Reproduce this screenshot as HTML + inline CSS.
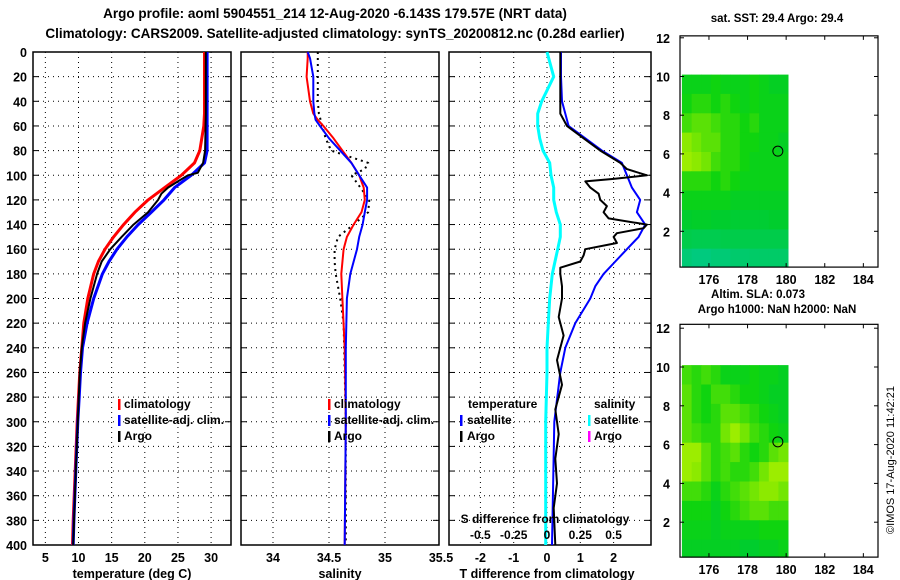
<!DOCTYPE html>
<html><head><meta charset="utf-8"><style>
html,body{margin:0;padding:0;background:#fff;}
svg{display:block;font-family:"Liberation Sans",sans-serif;font-weight:bold;}
</style></head><body>
<svg id="c" width="900" height="580" viewBox="0 0 900 580" xmlns="http://www.w3.org/2000/svg">
<text x="335" y="18" text-anchor="middle" font-size="13.5">Argo profile: aoml 5904551_214 12-Aug-2020 -6.143S 179.57E (NRT data)</text>
<text x="335" y="38" text-anchor="middle" font-size="13.5">Climatology: CARS2009. Satellite-adjusted climatology: synTS_20200812.nc (0.28d earlier)</text>
<text x="777" y="22" text-anchor="middle" font-size="11.5">sat. SST: 29.4 Argo: 29.4</text>
<text x="758" y="298" text-anchor="middle" font-size="11.5">Altim. SLA: 0.073</text>
<text x="777" y="313" text-anchor="middle" font-size="11.5">Argo h1000: NaN h2000: NaN</text>
<text transform="translate(894,460) rotate(-90)" text-anchor="middle" font-size="11" font-weight="normal">©IMOS 17-Aug-2020 11:42:21</text>
</svg>
<script>
// ---- profile data ----
const tDepth = [0,50,60,80,90,100,110,120,130,140,150,160,170,180,200,220,240,260,280,300,340,380,400];
const tClim  = [29.0,29.0,28.9,28.3,27.5,25.5,23,20.5,18.5,16.8,15.3,14,13,12.3,11.4,10.8,10.5,10.2,10,9.8,9.5,9.2,9.1];
const tSat   = [29.4,29.4,29.4,29.4,29.0,27,24.5,22.9,21,19,17.3,15.8,14.6,13.6,12.3,11.3,10.6,10.3,10.1,9.9,9.6,9.3,9.2];
const aDepth = [0,50,80,90,98,100,105,110,115,120,130,140,150,160,170,180,200,220,240,260,300,340,400];
const tArgo  = [29.2,29.2,29.1,28.8,28,26.5,25,23.5,22.5,22,20.5,18.3,16.5,14.8,13.5,12.8,11.8,11,10.5,10.2,9.9,9.6,9.2];
const sDepth = [0,5,20,40,50,55,60,70,80,90,100,110,120,130,140,150,160,180,200,240,300,400];
const sClim  = [34.31,34.31,34.30,34.33,34.36,34.40,34.45,34.54,34.62,34.70,34.77,34.81,34.82,34.79,34.72,34.66,34.63,34.61,34.62,34.64,34.65,34.64];
const sSat   = [34.31,34.33,34.36,34.36,34.37,34.38,34.42,34.5,34.6,34.7,34.77,34.84,34.84,34.82,34.80,34.77,34.75,34.69,34.66,34.65,34.65,34.64];
const sArgoDepth = [0,40,50,60,70,80,90,95,100,110,120,130,140,150,160,170,180,200,220,260,300,400];
const sArgo  = [34.40,34.40,34.41,34.44,34.47,34.52,34.85,34.82,34.70,34.78,34.86,34.85,34.72,34.58,34.55,34.55,34.56,34.60,34.63,34.64,34.65,34.65];
const dDepth = [0,20,40,50,60,70,80,90,100,110,120,130,140,150,160,170,180,190,200,220,240,260,300,400];
const dTsat  = [0.42,0.42,0.45,0.55,0.65,1.15,1.65,2.25,2.4,2.55,2.8,2.7,2.95,2.75,2.4,2.05,1.7,1.45,1.3,0.85,0.55,0.4,0.22,0.15];
const dSsat  = [0.0,0.05,-0.04,-0.07,-0.07,-0.055,-0.03,0.02,0.03,0.05,0.05,0.07,0.1,0.1,0.08,0.06,0.04,0.03,0.02,0.01,0.0,0.0,-0.01,-0.01];
const daDepth = [0,50,60,70,80,90,95,100,103,105,110,115,120,125,130,135,140,143,147,150,155,160,165,170,175,180,190,200,215,230,250,270,290,310,330,350,370,400];
const dTargo = [0.4,0.4,0.6,1.1,1.6,2.2,2.4,3.0,2.0,1.15,1.3,1.55,1.6,1.8,1.7,1.85,3.0,2.9,2.1,2.0,2.1,1.15,1.1,1.0,0.4,0.4,0.45,0.45,0.35,0.5,0.3,0.45,0.25,0.35,0.25,0.3,0.2,0.25];
const depthTicks = [0,20,40,60,80,100,120,140,160,180,200,220,240,260,280,300,320,340,360,380,400];
const tTicks = [5,10,15,20,25,30];
const sTicks = [34,34.5,35,35.5];
const sTickLabels = ["34","34.5","35","35.5"];
const dTicks = [-2,-1,0,1,2];
const dsTicks = [-0.5,-0.25,0,0.25,0.5];
const dsTickLabels = ["-0.5","-0.25","0","0.25","0.5"];
// ---- map data (colour index 0 teal .. 1 yellow-green), rows north->south, 0.5° cols ----
const sstRows = [
[.5,.5,.5,.55,.5,.5,.5,.55,.5,.45,.45],
[.55,.6,.6,.55,.6,.55,.5,.55,.5,.5,.5],
[.65,.7,.7,.65,.6,.6,.55,.6,.5,.5,.5],
[.8,.75,.7,.7,.6,.6,.55,.55,.5,.5,.45],
[.85,.8,.75,.65,.6,.6,.55,.5,.5,.5,.5],
[.6,.6,.6,.55,.6,.55,.5,.5,.5,.5,.5],
[.5,.5,.5,.5,.5,.45,.45,.45,.45,.45,.45],
[.4,.42,.42,.4,.4,.38,.38,.38,.38,.4,.4],
[.3,.28,.28,.28,.3,.3,.3,.3,.3,.3,.3],
[.15,.12,.12,.15,.15,.18,.18,.2,.2,.2,.2]];
const slaRows = [
[.65,.6,.65,.6,.5,.5,.5,.55,.5,.5,.45],
[.7,.6,.55,.65,.65,.6,.55,.55,.5,.45,.45],
[.7,.6,.55,.6,.7,.7,.65,.6,.55,.5,.45],
[.7,.65,.6,.6,.75,.85,.75,.65,.6,.55,.5],
[.85,.85,.7,.6,.65,.7,.6,.55,.6,.7,.75],
[.85,.8,.7,.6,.65,.6,.6,.65,.75,.85,.85],
[.65,.65,.6,.5,.6,.65,.7,.75,.8,.8,.75],
[.55,.55,.55,.45,.55,.6,.65,.7,.7,.65,.65],
[.5,.5,.5,.45,.5,.5,.5,.5,.55,.55,.55],
[.45,.45,.45,.45,.45,.45,.4,.4,.45,.45,.5]];
const floatLon = 179.57, floatLat = 6.143;
const mapXTicks = [176,178,180,182,184];
const mapYTicks = [2,4,6,8,10,12];

const svg = document.getElementById('c');
const NS = 'http://www.w3.org/2000/svg';
function mk(tag, attrs, parent){ const e=document.createElementNS(NS,tag); for(const k in attrs) e.setAttribute(k,attrs[k]); (parent||svg).appendChild(e); return e; }

const top0=52, bot=545;
const yD = d => top0 + (bot-top0)*d/400;
const panels = [
  {x0:33,x1:231,sx:v=>12.2+6.63*v,name:'temperature-panel'},
  {x0:241,x1:439,sx:v=>273+112*(v-34),name:'salinity-panel'},
  {x0:449,x1:651,sx:v=>547+33.3*v,name:'difference-panel'}];
const xT=panels[0].sx, xS=panels[1].sx, xDT=panels[2].sx, xDS=v=>547+133.2*v;

function line(xs, ds, fx, color, w, name, dash){
  const pts = xs.map((v,i)=>fx(v).toFixed(1)+','+yD(ds[i]).toFixed(1)).join(' ');
  const p = mk('polyline',{points:pts,fill:'none',stroke:color,'stroke-width':w,'stroke-linejoin':'round'});
  if(dash) p.setAttribute('stroke-dasharray',dash);
  
  
}

panels.forEach((P,pi)=>{
  const g = mk('g',{});
  
  
  const cp = mk('clipPath',{id:'cp'+pi},g);
  mk('rect',{x:P.x0,y:top0,width:P.x1-P.x0,height:bot-top0},cp);
  depthTicks.forEach(d=>{
    const y=yD(d);
    if(d>0&&d<400){ const gl=mk('line',{x1:P.x0,x2:P.x1,y1:y,y2:y,stroke:'#000','stroke-width':1,'stroke-dasharray':'1 4'},g);
        }
    mk('line',{x1:P.x0,x2:P.x0+6,y1:y,y2:y,stroke:'#000'},g);
    mk('line',{x1:P.x1-6,x2:P.x1,y1:y,y2:y,stroke:'#000'},g);
    if(pi===0){ const t=mk('text',{x:27,y:y+5,'text-anchor':'end','font-size':12.5},g); t.textContent=d;
        }
  });
  const vt = pi===0?tTicks:pi===1?sTicks:dTicks;
  vt.forEach((v,i)=>{
    const x=P.sx(v);
    if(x>P.x0+2&&x<P.x1-2){ const gl=mk('line',{x1:x,x2:x,y1:top0,y2:bot,stroke:'#000','stroke-dasharray':'1 4'},g);
        }
    const t=mk('text',{x:x,y:562,'text-anchor':'middle','font-size':12.5},g);
    t.textContent = pi===1?sTickLabels[i]:String(v);
     
  });
  const fr=mk('rect',{x:P.x0,y:top0,width:P.x1-P.x0,height:bot-top0,fill:'none',stroke:'#000','stroke-width':1.5},g);
   
});

line(tClim,tDepth,xT,'#f00',3,'temp-climatology-line');
line(tSat,tDepth,xT,'#00f',3,'temp-satellite-line');
line(tArgo,aDepth,xT,'#000',2,'temp-argo-line');
line(sArgo,sArgoDepth,xS,'#000',2,'salinity-argo-line','2 4');
line(sClim,sDepth,xS,'#f00',2,'salinity-climatology-line');
line(sSat,sDepth,xS,'#00f',2,'salinity-satellite-line');
line(dSsat,dDepth,xDS,'#0ff',3,'salinity-diff-satellite-line');
line(dTsat,dDepth,xDT,'#00f',2,'temp-diff-satellite-line');
line(dTargo,daDepth,xDT,'#000',2,'temp-diff-argo-line');

function txt(x,y,s,size,name,anchor){ const t=mk('text',{x:x,y:y,'font-size':size,'text-anchor':anchor||'start'}); t.textContent=s;
    return t; }
function key(x,y,color,name){ const r=mk('rect',{x:x,y:y-10,width:2.5,height:11,fill:color});
    }
[[118,'temp'],[328,'sal']].forEach(([lx,n])=>{
  key(lx,409,'#f00',n+'-legend-climatology-swatch'); txt(lx+6,408,'climatology',12,n+'-legend-climatology');
  key(lx,425,'#00f',n+'-legend-satellite-swatch'); txt(lx+6,424,'satellite-adj. clim.',12,n+'-legend-satellite');
  key(lx,441,'#000',n+'-legend-argo-swatch'); txt(lx+6,440,'Argo',12,n+'-legend-argo');
});
txt(468,408,'temperature',12,'diff-legend-temperature-header');
key(460,425,'#00f','diff-legend-tsat-swatch'); txt(467,424,'satellite',12,'diff-legend-tsat');
key(460,441,'#000','diff-legend-targo-swatch'); txt(467,440,'Argo',12,'diff-legend-targo');
txt(594,408,'salinity',12,'diff-legend-salinity-header');
key(588,425,'#0ff','diff-legend-ssat-swatch'); txt(594,424,'satellite',12,'diff-legend-ssat');
key(588,441,'#f0f','diff-legend-sargo-swatch'); txt(594,440,'Argo',12,'diff-legend-sargo');
txt(545,523,'S difference from climatology',12,'s-diff-axis-title','middle');
dsTicks.forEach((v,i)=>txt(xDS(v),539,dsTickLabels[i],12,'s-diff-tick-label','middle'));
txt(132,578,'temperature (deg C)',12.5,'temperature-axis-title','middle');
txt(340,578,'salinity',12.5,'salinity-axis-title','middle');
txt(547,578,'T difference from climatology',12.5,'t-diff-axis-title','middle');

// ---- maps ----
const cstops=[[0,[0,200,160]],[0.4,[0,205,45]],[0.55,[15,212,15]],[0.8,[140,234,0]],[1,[205,245,0]]];
function cmap(v){ for(let i=1;i<cstops.length;i++){ if(v<=cstops[i][0]){ const a=cstops[i-1],b=cstops[i],f=(v-a[0])/(b[0]-a[0]);
  return 'rgb('+a[1].map((c,k)=>Math.round(c+(b[1][k]-c)*f)).join(',')+')'; } } return 'rgb(205,245,0)'; }
function drawMap(M){
  const g=mk('g',{});  
  const mx=lon=>680+19.3*(lon-174.5), my=lat=>M.y0-M.k*lat;
  M.rows.forEach((row,r)=>row.forEach((v,c)=>{
    const la1=10.1-r, la0=Math.max(la1-1,M.latMin);
    const cell=mk('rect',{x:mx(174.6+0.5*c).toFixed(1),y:my(la1).toFixed(1),width:(19.3*0.5+0.4).toFixed(1),height:(my(la0)-my(la1)+0.4).toFixed(1),fill:cmap(v)},g);
     
  }));
  const fy0=my(M.latMax), fy1=my(M.latMin);
  const fr=mk('rect',{x:680,y:fy0,width:198,height:fy1-fy0,fill:'none',stroke:'#000','stroke-width':1.2},g);
   
  mapYTicks.forEach(t=>{ const y=my(t); if(y<fy0-1||y>fy1+1) return;
    mk('line',{x1:680,x2:684,y1:y,y2:y,stroke:'#000'},g); mk('line',{x1:874,x2:878,y1:y,y2:y,stroke:'#000'},g);
    const tl=mk('text',{x:670,y:y+5,'text-anchor':'end','font-size':12.5},g); tl.textContent=t;
      });
  mapXTicks.forEach(t=>{ const x=mx(t);
    mk('line',{x1:x,x2:x,y1:fy0,y2:fy0+4,stroke:'#000'},g); mk('line',{x1:x,x2:x,y1:fy1-4,y2:fy1,stroke:'#000'},g);
    const tl=mk('text',{x:x,y:fy1+17,'text-anchor':'middle','font-size':12.5},g); tl.textContent=t;
      });
  const ci=mk('circle',{cx:mx(floatLon),cy:my(floatLat),r:5,fill:'none',stroke:'#000','stroke-width':1},g);
   
}
drawMap({name:'sst-map',rows:sstRows,y0:270,k:19.35,latMin:0.15,latMax:12.1});
drawMap({name:'sla-map',rows:slaRows,y0:561,k:19.4,latMin:0.2,latMax:12.2});
</script>
</body></html>
